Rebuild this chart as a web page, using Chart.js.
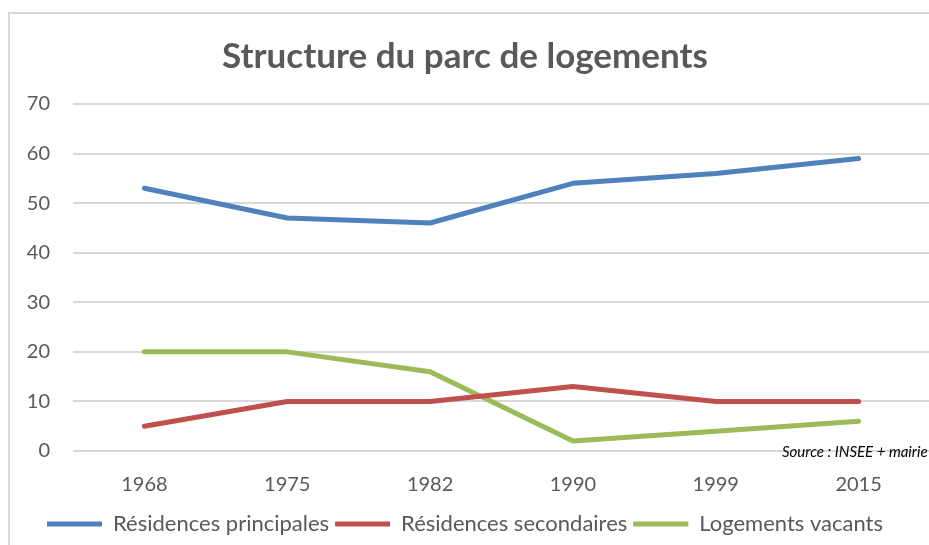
<!DOCTYPE html>
<html>
<head>
<meta charset="utf-8">
<script src="https://cdn.jsdelivr.net/npm/chart.js@4"></script>
<style>
  html, body { margin: 0; padding: 0; background: #fff; overflow: hidden; }
  #frame { position: absolute; left: 8px; top: 12px; width: 1000px; height: 600px; border: 2px solid #d9d9d9; }
  #wrap { position: absolute; left: 0; top: 0; width: 944px; height: 545px; }
</style>
</head>
<body>
<div id="frame"></div>
<div id="wrap"><canvas id="parcChart"></canvas></div>
<script>
const years = ["1968", "1975", "1982", "1990", "1999", "2015"];
const principales = [53, 47, 46, 54, 56, 59];
const secondaires = [5, 10, 10, 13, 10, 10];
const vacants = [20, 20, 16, 2, 4, 6];
const yTicks = [0, 10, 20, 30, 40, 50, 60, 70];

const textGray = "#595959";
const fontFamily = "Lato, 'Open Sans', sans-serif";

// petite note de source sous la courbe, à droite
const sourcePlugin = {
    id: "sourceNote",
    afterDraw(chart) {
        const ctx = chart.ctx;
        const y0 = chart.scales.y.getPixelForValue(0);
        ctx.save();
        ctx.font = "italic 15px " + fontFamily;
        ctx.fillStyle = "#000";
        ctx.textAlign = "left";
        ctx.textBaseline = "middle";
        ctx.fillText("Source : INSEE + mairie", 782, y0 + 1);
        ctx.restore();
    }
};

const datasets = [
    { label: "Résidences principales", data: principales, borderColor: "#4F81BD", backgroundColor: "#4F81BD" },
    { label: "Résidences secondaires", data: secondaires, borderColor: "#C0504D", backgroundColor: "#C0504D" },
    { label: "Logements vacants", data: vacants, borderColor: "#9BBB59", backgroundColor: "#9BBB59" }
].map((d) => ({ ...d, borderWidth: 5, pointRadius: 0, tension: 0, borderCapStyle: "round", borderJoinStyle: "round" }));

const config = {
    type: "line",
    data: { labels: years, datasets },
    options: {
        responsive: true,
        maintainAspectRatio: false,
        animation: false,
        layout: { padding: { left: 0, right: 14, top: 0, bottom: 0 } },
        plugins: {
            title: {
                display: true,
                text: "Structure du parc de logements",
                color: textGray,
                font: { family: fontFamily, size: 35, weight: "bold" },
                padding: { top: 36, bottom: 26 }
            },
            legend: {
                position: "bottom",
                labels: {
                    usePointStyle: true,
                    pointStyle: "line",
                    pointStyleWidth: 55,
                    boxHeight: 5,
                    color: textGray,
                    font: { family: fontFamily, size: 22 },
                    padding: 6
                }
            },
            tooltip: { enabled: false }
        },
        scales: {
            x: {
                offset: true,
                afterFit: (scale) => { scale.height = 56; },
                grid: { display: false, drawTicks: false },
                border: { display: false },
                ticks: { color: textGray, font: { family: fontFamily, size: 20 }, padding: 22, maxRotation: 0 }
            },
            y: {
                min: 0,
                max: 70,
                afterBuildTicks: (scale) => { scale.ticks = yTicks.map((v) => ({ value: v })); },
                afterFit: (scale) => { scale.width = 73; },
                grid: { color: "#d9d9d9", lineWidth: 2, drawTicks: false },
                border: { display: false },
                ticks: { color: textGray, font: { family: fontFamily, size: 20 }, padding: 23 }
            }
        }
    },
    plugins: [sourcePlugin]
};

new Chart(document.getElementById("parcChart"), config);
</script>
</body>
</html>
